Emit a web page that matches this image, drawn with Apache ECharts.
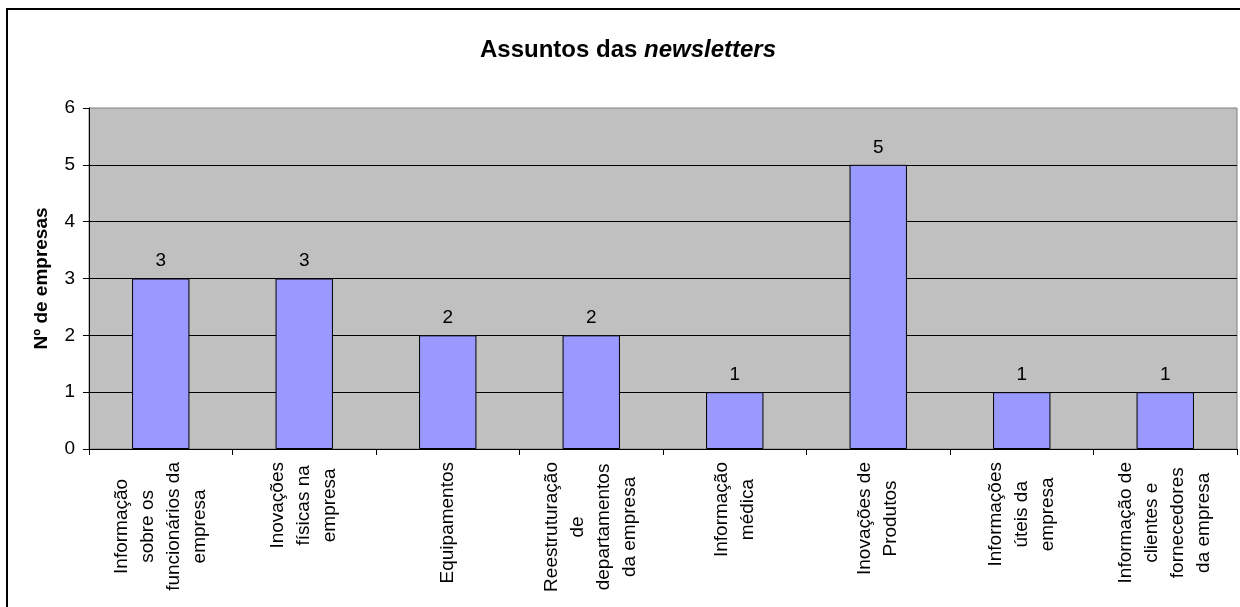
<!DOCTYPE html>
<html>
<head>
<meta charset="utf-8">
<script src="https://cdn.jsdelivr.net/npm/echarts@6/dist/echarts.min.js"></script>
<style>
  html, body { margin: 0; padding: 0; background: #fff; overflow: hidden; }
  #chart {
    position: absolute; left: 6px; top: 8px;
    width: 1240px; height: 600px;
    border-left: 2px solid #000; border-top: 2px solid #000;
  }
</style>
</head>
<body>
<div id="chart"></div>
<script>
var categories = [
  'Informação\nsobre os\nfuncionários da\nempresa',
  'Inovações\nfísicas na\nempresa',
  'Equipamentos',
  'Reestruturação\nde\ndepartamentos\nda empresa',
  'Informação\nmédica',
  'Inovações de\nProdutos',
  'Informações\núteis da\nempresa',
  'Informação de\nclientes e\nfornecedores\nda empresa'
];
var values = [3, 3, 2, 2, 1, 5, 1, 1];
var yMin = 0, yMax = 6, yStep = 1;

(function () {
  var font = '"Liberation Sans", Arial, sans-serif';
  var mychart = echarts.init(document.getElementById('chart'));

  var option = {
    backgroundColor: '#fff',
    animation: false,
    title: {
      text: '{a|Assuntos das }{b|newsletters}',
      left: 'center',
      top: 23,
      textStyle: {
        rich: {
          a: { fontFamily: font, fontSize: 24, fontWeight: 'bold', color: '#000' },
          b: { fontFamily: font, fontSize: 24, fontWeight: 'bold', fontStyle: 'italic', color: '#000' }
        }
      }
    },
    grid: {
      left: 81,
      right: 11,
      top: 98,
      bottom: 161,
      show: true,
      backgroundColor: '#C0C0C0',
      borderColor: '#808080',
      borderWidth: 1,
      outerBoundsMode: 'none'
    },
    xAxis: {
      type: 'category',
      data: categories,
      boundaryGap: true,
      axisLine: { lineStyle: { color: '#000', width: 1 } },
      axisTick: { show: true, length: 6, lineStyle: { color: '#000' } },
      axisLabel: {
        interval: 0,
        rotate: 90,
        margin: 13,
        formatter: function (v) {
          return v.split('\n').map(function (l) { return '{c|' + l + '}'; }).join('\n');
        },
        rich: {
          c: { align: 'center', fontFamily: font, fontSize: 19, lineHeight: 26, color: '#000' }
        }
      }
    },
    yAxis: {
      type: 'value',
      min: yMin,
      max: yMax,
      interval: yStep,
      name: 'Nº de empresas',
      nameLocation: 'middle',
      nameGap: 38,
      nameTextStyle: { fontFamily: font, fontSize: 19, fontWeight: 'bold', color: '#000' },
      axisLine: { show: true, lineStyle: { color: '#000', width: 1 } },
      axisTick: { show: true, length: 6, lineStyle: { color: '#000' } },
      axisLabel: { margin: 14, fontFamily: font, fontSize: 19, color: '#000' },
      splitLine: { show: true, showMaxLine: false, lineStyle: { color: '#000', width: 1 } }
    },
    series: [
      {
        type: 'bar',
        data: values,
        barWidth: '40%',
        itemStyle: { color: '#9999FF', borderColor: '#000', borderWidth: 1 },
        label: {
          show: true,
          position: 'top',
          distance: 8,
          fontFamily: font,
          fontSize: 19,
          color: '#000'
        }
      }
    ]
  };
  mychart.setOption(option);
})();
</script>
</body>
</html>
